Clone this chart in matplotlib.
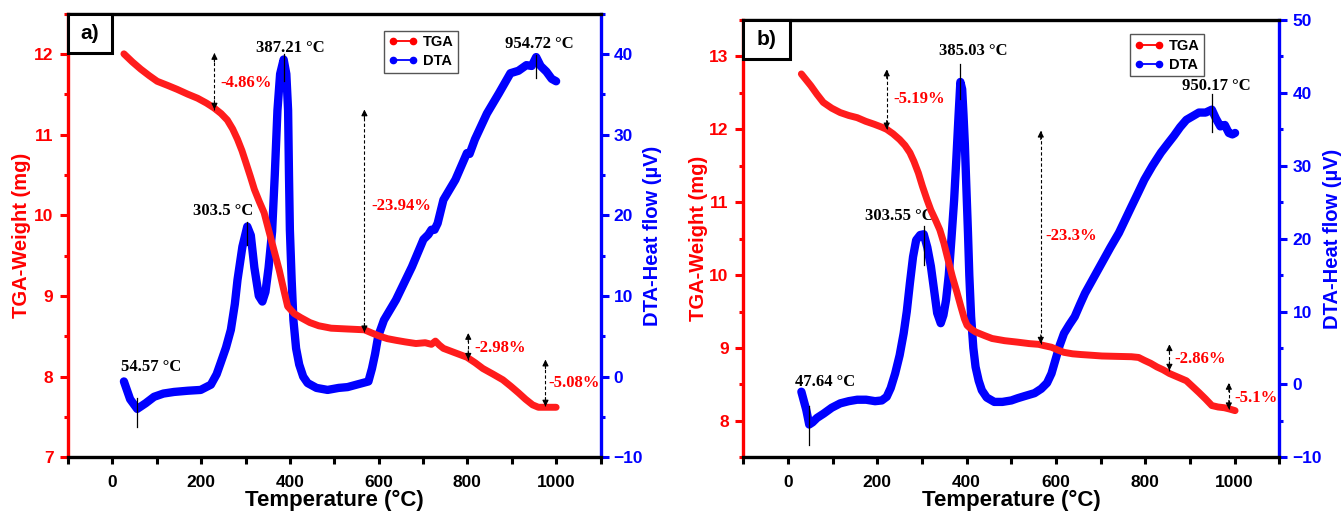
import matplotlib
matplotlib.use("Agg")
import matplotlib.pyplot as plt
from matplotlib.lines import Line2D
from matplotlib.patches import Rectangle
from matplotlib.ticker import MultipleLocator

# ---------------- data ----------------
# Panel a
tga_a_T = [26, 45, 64, 83, 101, 124, 146, 170, 192, 212, 229, 245, 259, 271, 282, 292, 301, 311,
           320, 331, 342, 352, 364, 376, 386, 395, 410, 425, 445, 465, 493, 530, 568, 585, 603,
           620, 639, 660, 684, 705, 719, 728, 737, 746, 770, 799, 818, 835, 858, 880, 898, 915,
           931, 947, 960, 980, 1000]
tga_a_w = [12.0, 11.9, 11.81, 11.73, 11.66, 11.61, 11.56, 11.50, 11.45, 11.39, 11.33, 11.26, 11.18,
           11.07, 10.94, 10.80, 10.65, 10.48, 10.32, 10.17, 10.03, 9.82, 9.57, 9.32, 9.08, 8.87,
           8.78, 8.73, 8.67, 8.63, 8.60, 8.59, 8.58, 8.54, 8.50, 8.47, 8.45, 8.43, 8.41, 8.42,
           8.40, 8.44, 8.39, 8.35, 8.30, 8.24, 8.17, 8.10, 8.03, 7.96, 7.88, 7.80, 7.72, 7.65,
           7.62, 7.62, 7.62]
dta_a_T = [26, 40, 56, 75, 94, 115, 139, 170, 199, 222, 235, 244, 256, 267, 276, 282, 293, 304,
           312, 320, 330, 338, 345, 352, 360, 366, 372, 378, 386, 392, 396, 398, 400, 404, 408,
           414, 421, 430, 440, 460, 485, 510, 530, 550, 577, 585, 592, 599, 612, 639, 675, 701,
           712, 719, 726, 733, 746, 773, 799, 805, 817, 844, 871, 897, 915, 933, 945, 955, 965,
           978, 990, 1000]
dta_a_h = [-0.6, -2.8, -4.0, -3.3, -2.5, -2.1, -1.9, -1.75, -1.65, -1.0, 0.3, 1.7, 3.6, 5.8, 9.0,
           12.0, 16.1, 18.6, 17.5, 13.5, 10.0, 9.3, 10.5, 13.5, 18.0, 25.0, 33.0, 37.5, 39.3,
           37.5, 33.0, 25.0, 18.2, 12.0, 7.0, 3.5, 1.5, 0.0, -0.8, -1.4, -1.65, -1.4, -1.3, -1.0,
           -0.6, 1.0, 2.8, 5.0, 7.0, 9.5, 13.6, 17.0, 17.6, 18.2, 18.2, 19.0, 21.9, 24.4, 27.7,
           27.6, 29.4, 32.6, 35.1, 37.6, 37.9, 38.6, 38.5, 39.6, 38.5, 37.8, 36.9, 36.6]

# Panel b
tga_b_T = [30, 51, 65, 79, 98, 117, 136, 155, 174, 193, 210, 221, 235, 250, 262, 273, 282, 292,
           301, 311, 320, 330, 340, 349, 358, 368, 378, 387, 395, 401, 410, 420, 440, 457, 485,
           514, 540, 561, 575, 590, 605, 618, 637, 656, 680, 703, 735, 769, 785, 798, 812, 826,
           840, 854, 873, 892, 906, 920, 935, 949, 963, 977, 990, 1001]
tga_b_w = [12.76, 12.6, 12.48, 12.37, 12.29, 12.23, 12.19, 12.16, 12.11, 12.07, 12.03, 12.0, 11.94,
           11.86, 11.78, 11.68, 11.56, 11.40, 11.22, 11.04, 10.89, 10.76, 10.62, 10.44, 10.22,
           9.98, 9.77, 9.57, 9.40, 9.31, 9.26, 9.22, 9.17, 9.13, 9.10, 9.08, 9.06, 9.05, 9.03,
           9.01, 8.97, 8.94, 8.92, 8.91, 8.90, 8.89, 8.885, 8.88, 8.87, 8.83, 8.79, 8.74, 8.70,
           8.65, 8.60, 8.55, 8.47, 8.39, 8.30, 8.21, 8.19, 8.18, 8.16, 8.14]
dta_b_T = [30, 41, 47.6, 55, 65, 80, 98, 117, 136, 155, 175, 195, 210, 221, 230, 240, 250, 259,
           266, 273, 280, 287, 296, 304, 312, 320, 327, 334, 342, 348, 354, 360, 366, 372, 377,
           382, 386, 390, 393, 396, 400, 403, 406, 410, 415, 420, 427, 434, 445, 462, 480, 500,
           514, 530, 552, 567, 580, 590, 599, 608, 618, 630, 642, 654, 665, 684, 703, 722, 741,
           755, 769, 784, 798, 816, 835, 850, 864, 878, 892, 906, 920, 935, 949, 958, 968, 978,
           987, 995, 1001]
dta_b_h = [-1.0, -3.5, -5.5, -5.2, -4.6, -4.0, -3.2, -2.6, -2.3, -2.1, -2.1, -2.3, -2.2, -1.7,
           -0.5, 1.5, 4.0, 7.0, 10.0, 13.9, 17.5, 19.8, 20.5, 20.6, 18.8, 16.2, 13.0, 9.8, 8.4,
           9.5, 11.6, 15.0, 20.0, 25.3, 31.0, 37.0, 41.5, 40.5, 37.0, 33.0, 26.0, 20.8, 15.0, 9.3,
           5.0, 2.4, 0.5, -0.8, -1.8, -2.4, -2.4, -2.2, -1.9, -1.6, -1.2, -0.6, 0.2, 1.5, 3.4, 5.3,
           7.0, 8.2, 9.3, 11.0, 12.5, 14.6, 16.7, 18.8, 20.8, 22.6, 24.4, 26.3, 28.1, 30.0, 31.8,
           33.0, 34.1, 35.3, 36.3, 36.8, 37.3, 37.3, 37.7, 36.5, 35.4, 35.6, 34.5, 34.3, 34.5]

# Peak annotations: (peak T, label, text T, text h, line h0, line h1)
peaks_a = [(387.21, "387.21 °C", 402, 40.7, 36.6, 40.0),
           (303.5, "303.5 °C", 250, 20.5, 16.3, 19.2),
           (54.57, "54.57 °C", 88, 1.2, -6.2, -2.6),
           (954.72, "954.72 °C", 961, 41.2, 37.0, 39.9)]
peaks_b = [(385.03, "385.03 °C", 415, 45.7, 39.1, 43.9),
           (303.55, "303.55 °C", 249, 23.1, 16.4, 21.7),
           (47.64, "47.64 °C", 82, 0.3, -8.3, -2.95),
           (950.17, "950.17 °C", 959, 40.9, 34.6, 39.9)]
# Mass-loss annotations: (arrow T, w top, w bottom, label, text T, text w)
loss_a = [(230, 12.01, 11.31, "-4.86%", 243, 11.64),
          (568, 11.31, 8.55, "-23.94%", 583, 10.11),
          (802, 8.54, 8.21, "-2.98%", 815, 8.36),
          (976, 8.21, 7.63, "-5.08%", 982, 7.92)]
loss_b = [(221, 12.82, 12.0, "-5.19%", 235, 12.42),
          (566, 11.98, 9.06, "-23.3%", 576, 10.53),
          (854, 9.05, 8.69, "-2.86%", 866, 8.85),
          (987, 8.52, 8.16, "-5.1%", 999, 8.32)]

RED = "#ff0000"
TGA_RED = "#ff1c1c"
BLUE = "#0000ff"
SANS = "Liberation Sans"
SERIF = "Liberation Serif"

plt.rcParams["font.family"] = [SANS, "DejaVu Sans"]
plt.rcParams["font.weight"] = "bold"

fig = plt.figure(figsize=(13.42, 5.13), dpi=100)

W, H = 1342.0, 513.0
panels = [
    dict(rect=(68, 13.5, 600.5, 457.3), ylim=(7, 12.5), y2lim=(-10, 45), letter="a)",
         tgaT=tga_a_T, tgaW=tga_a_w, dtaT=dta_a_T, dtaH=dta_a_h, peaks=peaks_a, loss=loss_a,
         box=(0.082, 0.910), leg=(0.593, 0.961), ylx=22, yrx=652),
    dict(rect=(743.3, 20.0, 1279.3, 457.3), ylim=(7.5, 13.5), y2lim=(-10, 50), letter="b)",
         tgaT=tga_b_T, tgaW=tga_b_w, dtaT=dta_b_T, dtaH=dta_b_h, peaks=peaks_b, loss=loss_b,
         box=(0.0866, 0.911), leg=(0.721, 0.967), ylx=698, yrx=1333),
]

for p in panels:
    x0, y0, x1, y1 = p["rect"]
    ax = fig.add_axes([x0 / W, 1 - y1 / H, (x1 - x0) / W, (y1 - y0) / H])
    tw = ax.twinx()
    ax.set_zorder(3)
    tw.set_zorder(2)
    ax.patch.set_visible(False)

    tw.plot(p["dtaT"], p["dtaH"], color=BLUE, lw=6, solid_capstyle="round",
            solid_joinstyle="round")
    ax.plot(p["tgaT"], p["tgaW"], color=TGA_RED, lw=5, solid_capstyle="round",
            solid_joinstyle="round")

    ax.set_xlim(-100, 1100)
    ax.set_ylim(*p["ylim"])
    tw.set_ylim(*p["y2lim"])

    ax.xaxis.set_major_locator(MultipleLocator(200))
    ax.xaxis.set_minor_locator(MultipleLocator(100))
    ax.yaxis.set_major_locator(MultipleLocator(1))
    ax.yaxis.set_minor_locator(MultipleLocator(0.5))
    tw.yaxis.set_major_locator(MultipleLocator(10))
    tw.yaxis.set_minor_locator(MultipleLocator(5))

    for s in ["left", "right", "top", "bottom"]:
        ax.spines[s].set_linewidth(2.4)
        tw.spines[s].set_linewidth(2.4)
    ax.spines["right"].set_visible(False)
    tw.spines["left"].set_visible(False)
    tw.spines["top"].set_visible(False)
    tw.spines["bottom"].set_visible(False)
    ax.spines["left"].set_color(RED)
    tw.spines["right"].set_color(BLUE)
    ax.spines["top"].set_color("black")
    ax.spines["bottom"].set_color("black")

    ax.tick_params(axis="y", which="major", colors=RED, labelsize=12.5, width=2.2,
                   length=5.5, pad=5, direction="out")
    ax.tick_params(axis="y", which="minor", colors=RED, width=2.2, length=3, direction="out")
    tw.tick_params(axis="y", which="major", colors=BLUE, labelsize=12.5, width=2.2,
                   length=5.5, pad=4, direction="out")
    tw.tick_params(axis="y", which="minor", colors=BLUE, width=2.2, length=3, direction="out")
    ax.tick_params(axis="x", which="major", colors="black", labelsize=12.5, width=2.2,
                   length=5, pad=8, direction="out")
    ax.tick_params(axis="x", which="minor", colors="black", width=2.2, length=5,
                   direction="out")
    for lab in ax.get_xticklabels() + ax.get_yticklabels() + tw.get_yticklabels():
        lab.set_fontweight("bold")

    ax.set_xlabel("Temperature (°C)", fontsize=16, fontweight="bold", va="center")
    ax.xaxis.set_label_coords(0.5, (y1 - 500.0) / (y1 - y0))
    ax.set_ylabel("TGA-Weight (mg)", fontsize=14.5, fontweight="bold", color=RED, va="center")
    ax.yaxis.set_label_coords((p["ylx"] - x0) / (x1 - x0), 0.5)
    tw.set_ylabel("DTA-Heat flow (µV)", fontsize=14.5, fontweight="bold", color=BLUE,
                  va="center", rotation=90)
    tw.yaxis.set_label_coords((p["yrx"] - x0) / (x1 - x0), 0.5)

    # panel letter box
    bw, bh = p["box"]
    ax.add_patch(Rectangle((0, bh), bw, 1 - bh, transform=ax.transAxes, fill=True,
                           facecolor="white", edgecolor="black", lw=2.2, zorder=10,
                           clip_on=False))
    ax.text(bw / 2, (1 + bh) / 2, p["letter"], transform=ax.transAxes, ha="center",
            va="center", fontsize=15, fontweight="bold", zorder=11)

    # peak annotations (DTA coordinates)
    for pt, lab, tx, ty, h0, h1 in p["peaks"]:
        tw.plot([pt, pt], [h0, h1], color="black", lw=0.9, zorder=5)
        tw.text(tx, ty, lab, ha="center", va="center", fontsize=12, fontweight="bold",
                family=SERIF, color="black")

    # mass-loss annotations (TGA coordinates)
    for at, wt, wb, lab, tx, ty in p["loss"]:
        ax.plot([at, at], [wb, wt], color="black", lw=0.8, ls=(0, (3, 2)), zorder=6)
        span = (p["ylim"][1] - p["ylim"][0]) * 0.02
        ax.annotate("", xy=(at, wt), xytext=(at, wt - span),
                    arrowprops=dict(arrowstyle="-|>", color="black", lw=0.8,
                                    mutation_scale=9, shrinkA=0, shrinkB=0), zorder=6)
        ax.annotate("", xy=(at, wb), xytext=(at, wb + span),
                    arrowprops=dict(arrowstyle="-|>", color="black", lw=0.8,
                                    mutation_scale=9, shrinkA=0, shrinkB=0), zorder=6)
        ax.text(tx, ty, lab, ha="left", va="center", fontsize=12, fontweight="bold",
                family=SERIF, color=RED)

    handles = [Line2D([], [], color=RED, lw=1.3, marker="o", markersize=4.5),
               Line2D([], [], color=BLUE, lw=1.3, marker="o", markersize=4.5)]
    leg = ax.legend(handles, ["TGA", "DTA"], loc="upper left", bbox_to_anchor=p["leg"],
                    borderaxespad=0, numpoints=2, handlelength=2.0, handletextpad=0.4,
                    labelspacing=0.35, borderpad=0.3, fancybox=False, framealpha=1,
                    edgecolor="#555555", prop=dict(family=SANS, weight="bold", size=10.5))
    leg.get_frame().set_linewidth(1.0)
    leg.set_zorder(12)

fig.savefig("out.png", dpi=100)
